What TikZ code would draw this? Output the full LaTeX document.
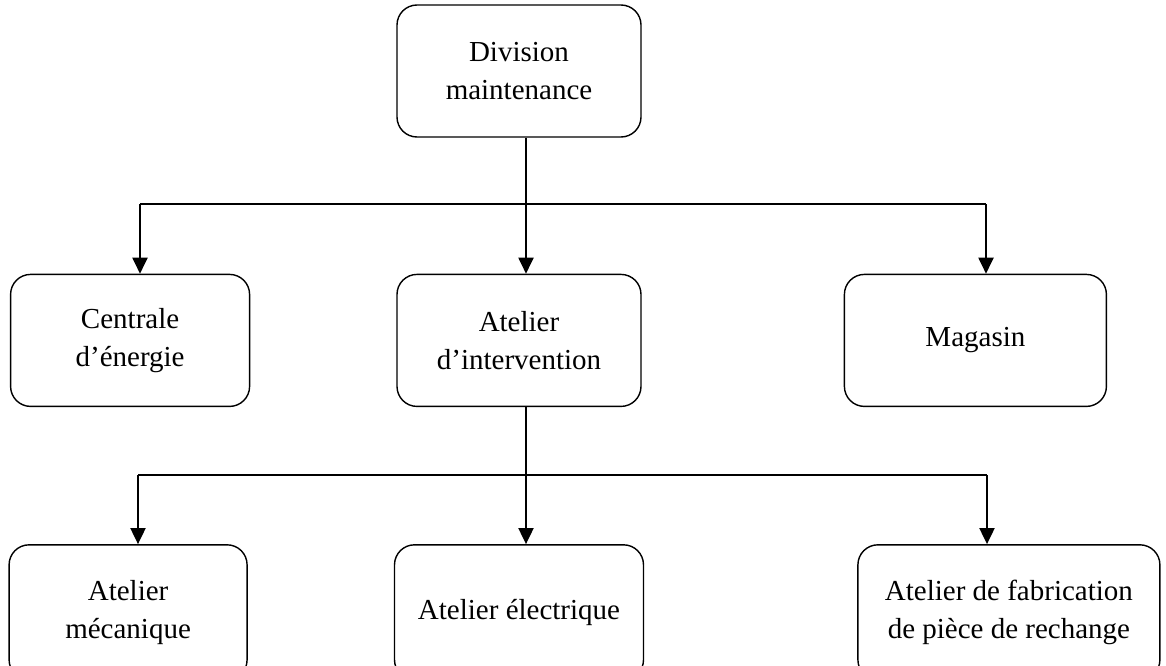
\documentclass[tikz,border=0pt]{standalone}
\usepackage{fontspec}
\setmainfont{Liberation Serif}
\usetikzlibrary{arrows.meta,positioning}

\begin{document}
\begin{tikzpicture}[>={Triangle[length=3.2mm,width=3mm]},node distance=10mm,
    unit/.style={draw,line width=0.8pt,rounded corners=4mm,align=center,
      font=\fontsize{16.5}{21.5}\selectfont,minimum height=2.64cm},
    link/.style={line width=1.1pt}]

    \useasboundingbox (0,0) rectangle (23.32,-13.3);

    \node[unit,minimum width=4.88cm] (div) at (10.38,-1.42) {Division\\maintenance};

    \node[unit,minimum width=4.88cm] (inter) [below=2.72cm of div] {Atelier\\d'intervention};
    \node[unit,minimum width=4.78cm] (cen) [left=2.92cm of inter] {Centrale\\d'énergie};
    \node[unit,minimum width=5.24cm] (mag) [right=4.04cm of inter] {Magasin};

    \node[unit,minimum width=4.98cm,minimum height=2.7cm] (elec) [below=2.74cm of inter] {Atelier électrique};
    \node[unit,minimum width=4.76cm,minimum height=2.7cm] (meca) [left=2.92cm of elec] {Atelier\\mécanique};
    \node[unit,minimum width=6.04cm,minimum height=2.7cm] (fab) [right=4.26cm of elec] {Atelier de fabrication\\de pièce de rechange};

    % first level
    \coordinate (b1) at (10.52,-4.08);
    \coordinate (b1l) at (2.8,-4.08);
    \coordinate (b1r) at (19.72,-4.08);
    \draw[link] (div.south -| b1) -- (b1);
    \draw[link] (b1l) -- (b1r);
    \draw[link,->] (b1l) -- (cen.north -| b1l);
    \draw[link,->] (b1) -- (inter.north -| b1);
    \draw[link,->] (b1r) -- (mag.north -| b1r);

    % second level
    \coordinate (b2) at (10.52,-9.5);
    \coordinate (b2l) at (2.76,-9.5);
    \coordinate (b2r) at (19.74,-9.5);
    \draw[link] (inter.south -| b2) -- (b2);
    \draw[link] (b2l) -- (b2r);
    \draw[link,->] (b2l) -- (meca.north -| b2l);
    \draw[link,->] (b2) -- (elec.north -| b2);
    \draw[link,->] (b2r) -- (fab.north -| b2r);

\end{tikzpicture}
\end{document}
